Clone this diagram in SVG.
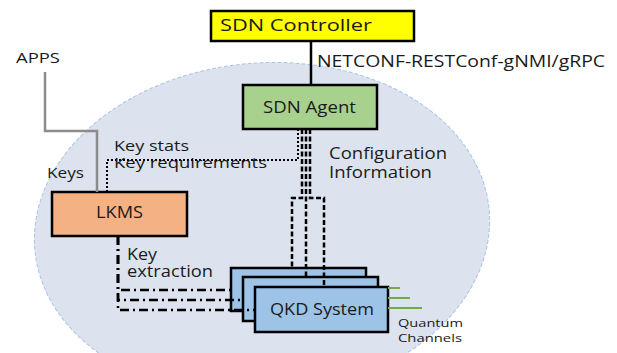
<svg xmlns="http://www.w3.org/2000/svg" width="617" height="353" viewBox="0 0 617 353">
  <style>
    text { font-family: "Open Sans", "Noto Sans", "DejaVu Sans", sans-serif; fill: #1a1a1a; }
    .box { stroke: #000; stroke-width: 2.5; }
    .lbl { font-size: 14.5px; }
    .mid { font-size: 15.5px; }
    .small { font-size: 11.5px; }
    .ctrl { stroke: #000; stroke-width: 2.5; fill: none; }
    .apps { stroke: #8c8c8c; stroke-width: 2.5; fill: none; }
    .dotted { stroke: #000; stroke-width: 2; stroke-dasharray: 2 2; fill: none; }
    .dashed { stroke: #000; stroke-width: 2.5; stroke-dasharray: 5 2.5; fill: none; }
    .dashdot { stroke: #000; stroke-width: 2.5; stroke-dasharray: 9 4 2 4; fill: none; }
    .qch { stroke: #70ad47; stroke-width: 2; }
  </style>
  <rect width="617" height="353" fill="#ffffff"/>

  <!-- domain area -->
  <ellipse cx="262" cy="230" rx="228" ry="167" transform="rotate(-5 262 230)" fill="#dce3ee" stroke="#a9c4e4" stroke-width="1" stroke-dasharray="4 2"/>

  <g id="sdn-controller">
    <rect class="box" x="211" y="11" width="203" height="30" fill="#ffff00"/>
    <text x="220" y="31" font-size="16.5" textLength="152" lengthAdjust="spacingAndGlyphs">SDN Controller</text>
  </g>

  <g id="sdn-agent">
    <rect class="box" x="243" y="85" width="134" height="44" fill="#a9d18e"/>
    <text class="mid" x="263" y="113" textLength="93" lengthAdjust="spacingAndGlyphs">SDN Agent</text>
  </g>

  <g id="lkms">
    <rect class="box" x="52" y="192" width="135" height="44" fill="#f4b183"/>
    <text class="mid" x="96" y="218" textLength="47" lengthAdjust="spacingAndGlyphs">LKMS</text>
  </g>

  <g id="qkd-systems">
    <rect class="box" x="231" y="268" width="135" height="43" fill="#9dc3e6"/>
    <rect class="box" x="243" y="277" width="135" height="44" fill="#9dc3e6"/>
    <rect class="box" x="255" y="287" width="133" height="45" fill="#9dc3e6"/>
    <text x="270" y="315" font-size="16" textLength="104" lengthAdjust="spacingAndGlyphs">QKD System</text>
  </g>

  <g id="apps">
    <text class="lbl" x="16" y="63" textLength="44" lengthAdjust="spacingAndGlyphs">APPS</text>
  </g>

  <g id="connectors">
    <!-- controller to agent -->
    <path class="ctrl" d="M311,41 V85"/>
    <!-- applications to LKMS -->
    <path class="apps" d="M45,72 V131 H97 V192"/>
    <!-- key stats / requirements -->
    <path class="dotted" d="M107,192 V160 H298 V129"/>
    <!-- configuration information -->
    <path class="dashed" d="M302,129 V198 H292 V268"/>
    <path class="dashed" d="M306,129 V277"/>
    <path class="dashed" d="M310,129 V198 H324 V287"/>
    <!-- key extraction -->
    <path class="dashdot" d="M118,236 V290 H232"/>
    <path class="dashdot" d="M118,236 V300 H243"/>
    <path class="dashdot" d="M118,236 V310 H255"/>
    <!-- quantum channels -->
    <path class="qch" d="M388,288 H400 M388,298 H410 M388,308 H422"/>
  </g>

  <g id="labels">
    <text x="317" y="67" font-size="15.5" textLength="288" lengthAdjust="spacingAndGlyphs">NETCONF-RESTConf-gNMI/gRPC</text>
    <text class="lbl" x="47" y="178" textLength="37" lengthAdjust="spacingAndGlyphs">Keys</text>
    <text class="lbl" x="114" y="151" textLength="75" lengthAdjust="spacingAndGlyphs">Key stats</text>
    <text class="lbl" x="114" y="168" textLength="153" lengthAdjust="spacingAndGlyphs">Key requirements</text>
    <text class="mid" x="329" y="159" textLength="118" lengthAdjust="spacingAndGlyphs">Configuration</text>
    <text class="mid" x="329" y="178" textLength="103" lengthAdjust="spacingAndGlyphs">Information</text>
    <text class="mid" x="127" y="260" textLength="30" lengthAdjust="spacingAndGlyphs">Key</text>
    <text class="mid" x="127" y="277" textLength="86" lengthAdjust="spacingAndGlyphs">extraction</text>
    <text class="small" x="398" y="327" textLength="65" lengthAdjust="spacingAndGlyphs">Quantum</text>
    <text class="small" x="398" y="342" textLength="64" lengthAdjust="spacingAndGlyphs">Channels</text>
  </g>
</svg>
